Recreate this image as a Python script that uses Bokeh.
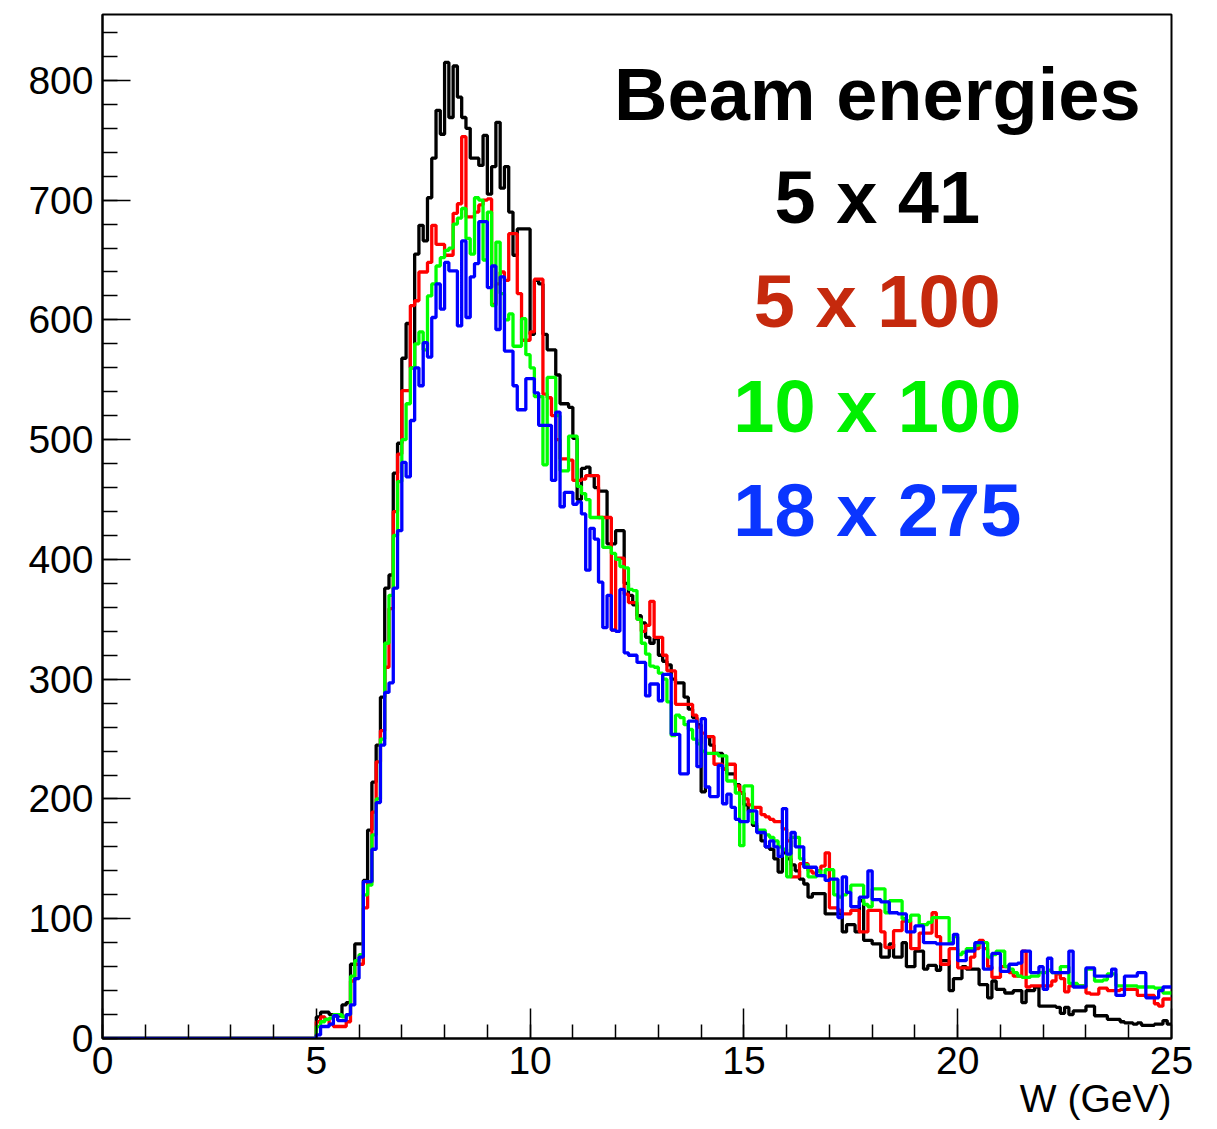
import numpy as np
from bokeh.plotting import figure
from bokeh.models import Range1d, SingleIntervalTicker, Label, Title
from bokeh.embed import file_html
from bokeh.resources import INLINE

# ---- binning: W from 0 to 25 GeV, 0.1 GeV bins ----
n_bins = 250
bin_width = 0.1
edges = np.round(np.arange(n_bins + 1) * bin_width, 2)

empty_below_5 = [0] * 50   # bins 0.0 - 5.0 GeV are empty

black_5x41 = empty_below_5 + [
    18, 22, 22, 20, 19, 19, 28, 30, 62, 79,
    79, 132, 174, 214, 245, 285, 376, 387, 472, 497,
    568, 597, 560, 655, 679, 666, 702, 735, 775, 755,
    815, 769, 812, 786, 769, 760, 735, 735, 729, 754,
    705, 728, 765, 710, 728, 690, 654, 676, 676, 676,
    588, 633, 630, 588, 575, 575, 554, 530, 530, 527,
    501, 450, 476, 477, 470, 460, 457, 457, 413, 413,
    424, 424, 380, 370, 362, 353, 347, 335, 330, 334,
    320, 315, 312, 300, 297, 297, 285, 275, 268, 262,
    206, 252, 245, 238, 238, 225, 221, 221, 212, 205,
    195, 190, 178, 173, 165, 160, 158, 150, 139, 155,
    150, 145, 140, 133, 129, 118, 121, 121, 121, 104,
    104, 104, 104, 89, 95, 95, 89, 115, 82, 82,
    79, 79, 68, 68, 79, 68, 68, 80, 60, 60,
    73, 73, 58, 61, 61, 57, 65, 65, 40, 50,
    50, 60, 58, 58, 58, 45, 45, 34, 48, 41,
    41, 38, 38, 40, 40, 30, 40, 40, 43, 27,
    27, 27, 27, 26, 21, 26, 20, 23, 23, 23,
    27, 27, 19, 19, 19, 16, 16, 16, 14, 13,
    13, 12, 13, 11, 11, 11, 12, 12, 15, 12,
]

red_5x100 = empty_below_5 + [
    14, 18, 16, 12, 10, 10, 10, 14, 48, 62,
    62, 109, 130, 189, 231, 257, 310, 359, 440, 488,
    541, 541, 612, 616, 640, 640, 648, 679, 663, 663,
    654, 654, 689, 697, 753, 686, 686, 690, 696, 700,
    701, 613, 630, 640, 633, 672, 672, 622, 583, 583,
    590, 634, 634, 538, 535, 520, 500, 484, 484, 483,
    466, 466, 467, 470, 470, 470, 435, 435, 435, 341,
    401, 401, 371, 364, 364, 350, 340, 345, 365, 335,
    335, 320, 307, 307, 279, 279, 279, 279, 270, 260,
    255, 252, 252, 229, 229, 225, 229, 229, 211, 205,
    200, 195, 193, 193, 187, 185, 183, 181, 181, 175,
    165, 135, 135, 146, 146, 140, 138, 140, 144, 155,
    109, 109, 107, 104, 104, 107, 107, 89, 89, 107,
    107, 107, 89, 76, 76, 90, 90, 98, 98, 75,
    75, 88, 88, 88, 105, 85, 62, 62, 75, 75,
    59, 59, 59, 68, 75, 82, 75, 60, 51, 51,
    60, 60, 55, 52, 52, 73, 43, 44, 44, 44,
    44, 44, 48, 54, 50, 39, 44, 44, 44, 44,
    38, 37, 37, 42, 42, 40, 40, 40, 41, 41,
    41, 41, 36, 36, 36, 36, 29, 27, 33, 33,
]

green_10x100 = empty_below_5 + [
    10, 14, 16, 17, 20, 20, 18, 20, 52, 65,
    70, 120, 128, 170, 200, 250, 330, 370, 420, 465,
    500, 530, 560, 580, 590, 575, 620, 630, 645, 652,
    658, 660, 680, 685, 693, 668, 655, 702, 700, 650,
    690, 612, 665, 622, 600, 605, 578, 578, 601, 571,
    560, 536, 536, 479, 552, 552, 520, 474, 474, 503,
    503, 461, 455, 450, 435, 435, 435, 410, 410, 405,
    400, 394, 393, 375, 374, 350, 330, 321, 311, 310,
    305, 300, 281, 253, 270, 268, 262, 258, 250, 246,
    240, 238, 238, 238, 236, 236, 215, 215, 205, 161,
    211, 211, 180, 174, 174, 170, 168, 165, 160, 158,
    135, 168, 168, 150, 145, 135, 135, 140, 136, 141,
    141, 120, 118, 120, 122, 128, 128, 128, 112, 110,
    125, 125, 125, 105, 115, 115, 115, 100, 98, 103,
    103, 95, 95, 97, 101, 101, 101, 101, 80, 85,
    70, 72, 75, 75, 78, 80, 80, 68, 70, 73,
    73, 60, 58, 55, 52, 51, 51, 52, 52, 55,
    55, 57, 55, 55, 60, 60, 46, 46, 44, 44,
    58, 58, 48, 48, 49, 54, 54, 44, 44, 44,
    44, 44, 43, 43, 43, 43, 42, 42, 38, 38,
]

blue_18x275 = empty_below_5 + [
    3, 10, 10, 12, 19, 15, 15, 20, 28, 50,
    68, 131, 131, 158, 197, 245, 289, 297, 376, 424,
    481, 469, 516, 560, 545, 581, 569, 602, 630, 609,
    648, 641, 641, 595, 666, 602, 636, 647, 682, 682,
    627, 645, 592, 636, 574, 574, 545, 525, 525, 551,
    551, 539, 512, 512, 512, 466, 523, 444, 456, 456,
    446, 448, 438, 391, 426, 417, 381, 343, 370, 341,
    340, 375, 322, 320, 320, 314, 314, 286, 296, 296,
    282, 304, 304, 254, 254, 221, 221, 265, 265, 227,
    267, 210, 202, 202, 228, 196, 204, 193, 183, 181,
    181, 190, 190, 172, 172, 160, 165, 160, 152, 192,
    154, 172, 160, 160, 143, 143, 143, 136, 136, 132,
    133, 133, 101, 135, 122, 110, 110, 118, 118, 140,
    116, 116, 114, 114, 105, 105, 104, 104, 89, 89,
    94, 94, 80, 80, 80, 79, 79, 79, 79, 87,
    65, 65, 73, 73, 80, 80, 58, 58, 71, 71,
    56, 56, 62, 62, 63, 73, 73, 55, 55, 60,
    41, 67, 55, 55, 55, 55, 73, 43, 43, 43,
    59, 59, 52, 52, 52, 52, 58, 36, 36, 52,
    52, 52, 55, 55, 34, 34, 34, 40, 43, 43,
]

series = [
    ("5 x 41", black_5x41, "#000000", "#000000"),
    ("5 x 100", red_5x100, "#ff0000", "#c5290d"),
    ("10 x 100", green_10x100, "#00ff00", "#00f000"),
    ("18 x 275", blue_18x275, "#0000ff", "#0a35ff"),
]

x_title = "W (GeV)"
legend_title = "Beam energies"

p = figure(width=1217, height=1129, output_backend="svg", toolbar_location=None,
           x_range=Range1d(0, 25), y_range=Range1d(0, 855),
           min_border_left=102, min_border_right=46, min_border_top=14, min_border_bottom=91)
p.background_fill_color = "white"
p.border_fill_color = "white"
p.outline_line_color = "black"
p.outline_line_width = 2
p.xgrid.visible = False
p.ygrid.visible = False

for name, vals, lc, tc in series:
    yy = list(vals) + [vals[-1]]
    p.step(x=edges, y=yy, mode="after", line_color=lc, line_width=3.3)

tick_font = "Liberation Sans"
p.xaxis.ticker = SingleIntervalTicker(interval=5, num_minor_ticks=5)
p.yaxis.ticker = SingleIntervalTicker(interval=100, num_minor_ticks=5)
for ax in (p.xaxis[0], p.yaxis[0]):
    ax.axis_line_color = "black"
    ax.axis_line_width = 2
    ax.major_tick_out = 0
    ax.minor_tick_out = 0
    ax.major_tick_line_color = "black"
    ax.minor_tick_line_color = "black"
    ax.major_tick_line_width = 1.5
    ax.minor_tick_line_width = 1.5
    ax.major_label_text_font = tick_font
    ax.major_label_text_font_size = "39px"
    ax.major_label_text_color = "black"
p.xaxis.major_tick_in = 30
p.xaxis.minor_tick_in = 14
p.yaxis.major_tick_in = 28
p.yaxis.minor_tick_in = 15
p.xaxis.major_label_standoff = 8
p.yaxis.major_label_standoff = 9

# x-axis title, right-aligned under the end of the axis
p.add_layout(Title(text=x_title, align="right", text_font=tick_font, text_font_size="39px",
                   text_font_style="normal", text_color="black", standoff=-4), "below")

leg_font = "Liberation Sans"
leg_size = 74
leg_x = 18.12
# text centres (middle baseline) in data units
leg_ys = [788.5, 702.0, 615.0, 528.0, 441.0]
p.add_layout(Label(x=leg_x, y=leg_ys[0], text=legend_title, text_align="center", text_baseline="middle",
                   text_font=leg_font, text_font_style="bold", text_font_size=f"{leg_size}px",
                   text_color="black"))
for (name, vals, lc, tc), yy in zip(series, leg_ys[1:]):
    p.add_layout(Label(x=leg_x, y=yy, text=name, text_align="center", text_baseline="middle",
                       text_font=leg_font, text_font_style="bold", text_font_size=f"{leg_size}px",
                       text_color=tc))

open("out.html", "w").write(file_html(p, INLINE))
